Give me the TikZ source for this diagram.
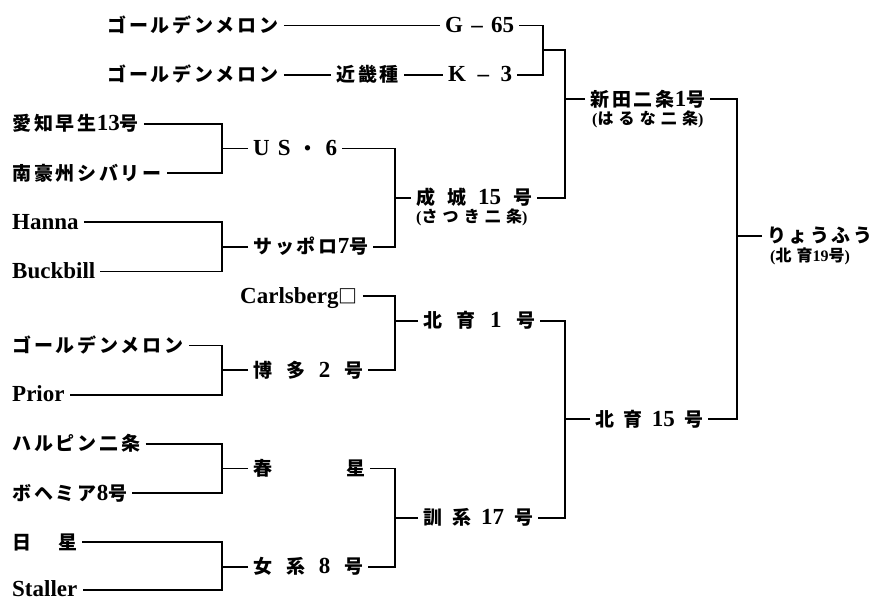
\documentclass[tikz,border=0pt]{standalone}
\usepackage{fontspec}
\setmainfont{Liberation Serif}
\newfontfamily\jpls[LetterSpace=15]{Noto Sans CJK JP}
\newfontfamily\jpplain{Noto Sans CJK JP}
\newfontfamily\jpsub[LetterSpace=32]{Noto Sans CJK JP}
\newcommand\jj[1]{{\fontsize{19}{19}\selectfont\jpls #1}}
\newcommand\jjn[1]{{\fontsize{19}{19}\selectfont\jpplain #1}}
\newcommand\jjs[1]{{\fontsize{16}{16}\selectfont\jpsub #1}}
\tikzset{
  lbl/.style={inner xsep=5pt, inner ysep=0pt, text height=14pt, text depth=0pt, anchor=west,
    font=\fontsize{23}{23}\selectfont\bfseries},
  sublbl/.style={inner sep=0pt, text height=11pt, text depth=0pt, anchor=west,
    font=\fontsize{16}{16}\selectfont\bfseries},
  ln/.style={line width=1.8pt}
}
\begin{document}
\begin{tikzpicture}[x=1pt,y=-1pt]
\useasboundingbox (0,0) rectangle (874,601);
% bracket columns
\coordinate (c1) at (222,0);
\coordinate (c2) at (395,0);
\coordinate (c5) at (543,0);
\coordinate (c6) at (565,0);
\coordinate (c7) at (737,0);
% top rows
\node[lbl] (gm1) at (102,25.6) {\jj{ゴールデンメロン}};
\node[lbl] (g65) at (440,25.6) {\makebox[69pt]{G\hfill–\hfill65}};
\node[lbl] (gm2) at (102,74.8) {\jj{ゴールデンメロン}};
\node[lbl] (kinki) at (331,74.8) {\jj{近畿種}};
\node[lbl] (k3) at (443,74.8) {\makebox[64pt]{K\hfill–\hfill3}};
% left column
\node[lbl] (aichi) at (7,124) {\jj{愛知早生}13\jj{号}};
\node[lbl] (nangou) at (7,173.2) {\jj{南豪州シバリー}};
\node[lbl] (hanna) at (7,222.4) {Hanna};
\node[lbl] (buck) at (7,271.6) {Buckbill};
\node[lbl] (gm3) at (7,345.4) {\jj{ゴールデンメロン}};
\node[lbl] (prior) at (7,394.6) {Prior};
\node[lbl] (harbin) at (7,443.8) {\jj{ハルピン二条}};
\node[lbl] (bohem) at (7,493) {\jj{ボヘミア}8\jj{号}};
\node[lbl] (nissei) at (7,542.2) {\makebox[65pt]{\jjn{日}\hfill\jjn{星}}};
\node[lbl] (staller) at (7,589.6) {Staller};
% second column
\node[lbl] (us6) at (248,148.6) {\makebox[84pt]{U\hfill S\hfill\jjn{・}\hfill 6}};
\node[lbl] (sapporo) at (248,247) {\jj{サッポロ}7\jj{号}};
\node[lbl] (carls) at (235,296.2) {Carlsberg\jjn{□}};
\node[lbl] (hakata) at (248,370) {\makebox[110pt]{\jjn{博}\hfill\jjn{多}\hfill 2\hfill\jjn{号}}};
\node[lbl] (shunsei) at (248,468.4) {\makebox[112pt]{\jjn{春}\hfill\jjn{星}}};
\node[lbl] (jokei) at (248,566.8) {\makebox[110pt]{\jjn{女}\hfill\jjn{系}\hfill 8\hfill\jjn{号}}};
% third column
\node[lbl] (seijo) at (411,197.8) {\makebox[116pt]{\jjn{成}\hfill\jjn{城}\hfill 15\hfill\jjn{号}}};
\node[sublbl] (seijosub) at (416,217.4) {(\jjs{さつき二条})};
\node[lbl] (hok1) at (418,320.8) {\makebox[112pt]{\jjn{北}\hfill\jjn{育}\hfill 1\hfill\jjn{号}}};
\node[lbl] (kunkei) at (418,517.6) {\makebox[110pt]{\jjn{訓}\hfill\jjn{系}\hfill 17\hfill\jjn{号}}};
% fourth column
\node[lbl] (nitta) at (585,99.4) {\jj{新田二条}1\jj{号}};
\node[sublbl] (nittasub) at (592,119) {(\jjs{はるな二条})};
\node[lbl] (hok15) at (590,419.2) {\makebox[108pt]{\jjn{北}\hfill\jjn{育}\hfill 15\hfill\jjn{号}}};
% final
\node[lbl] (ryofu) at (762,236) {\makebox[105pt]{\jjn{り}\hfill\jjn{ょ}\hfill\jjn{う}\hfill\jjn{ふ}\hfill\jjn{う}}};
\node[sublbl] (ryofusub) at (770,255.6) {(\jjs{北育}19\jjs{号})};
% connectors: top rows
\draw[ln] (gm1.east) -- (g65.west);
\draw[ln] (gm2.east) -- (kinki.west);
\draw[ln] (kinki.east) -- (k3.west);
\draw[ln] (g65.east) -| (c5 |- k3.east) -- (k3.east);
\coordinate (jgk) at (543,50.2);
\draw[ln] (jgk) -| (c6 |- seijo.east) -- (seijo.east);
\draw[ln] (nitta.west) -- (nitta.west -| c6);
% left brackets
\draw[ln] (aichi.east) -| (c1 |- nangou.east) -- (nangou.east);
\draw[ln] (us6.west) -- (us6.west -| c1);
\draw[ln] (hanna.east) -| (c1 |- buck.east) -- (buck.east);
\draw[ln] (sapporo.west) -- (sapporo.west -| c1);
\draw[ln] (gm3.east) -| (c1 |- prior.east) -- (prior.east);
\draw[ln] (hakata.west) -- (hakata.west -| c1);
\draw[ln] (harbin.east) -| (c1 |- bohem.east) -- (bohem.east);
\draw[ln] (shunsei.west) -- (shunsei.west -| c1);
\draw[ln] (nissei.east) -| (c1 |- staller.east) -- (staller.east);
\draw[ln] (jokei.west) -- (jokei.west -| c1);
% second brackets
\draw[ln] (us6.east) -| (c2 |- sapporo.east) -- (sapporo.east);
\draw[ln] (seijo.west) -- (seijo.west -| c2);
\draw[ln] (carls.east) -| (c2 |- hakata.east) -- (hakata.east);
\draw[ln] (hok1.west) -- (hok1.west -| c2);
\draw[ln] (shunsei.east) -| (c2 |- jokei.east) -- (jokei.east);
\draw[ln] (kunkei.west) -- (kunkei.west -| c2);
% third brackets
\draw[ln] (hok1.east) -| (c6 |- kunkei.east) -- (kunkei.east);
\draw[ln] (hok15.west) -- (hok15.west -| c6);
% final bracket
\draw[ln] (nitta.east) -| (c7 |- hok15.east) -- (hok15.east);
\draw[ln] (ryofu.west) -- (ryofu.west -| c7);
\end{tikzpicture}
\end{document}
